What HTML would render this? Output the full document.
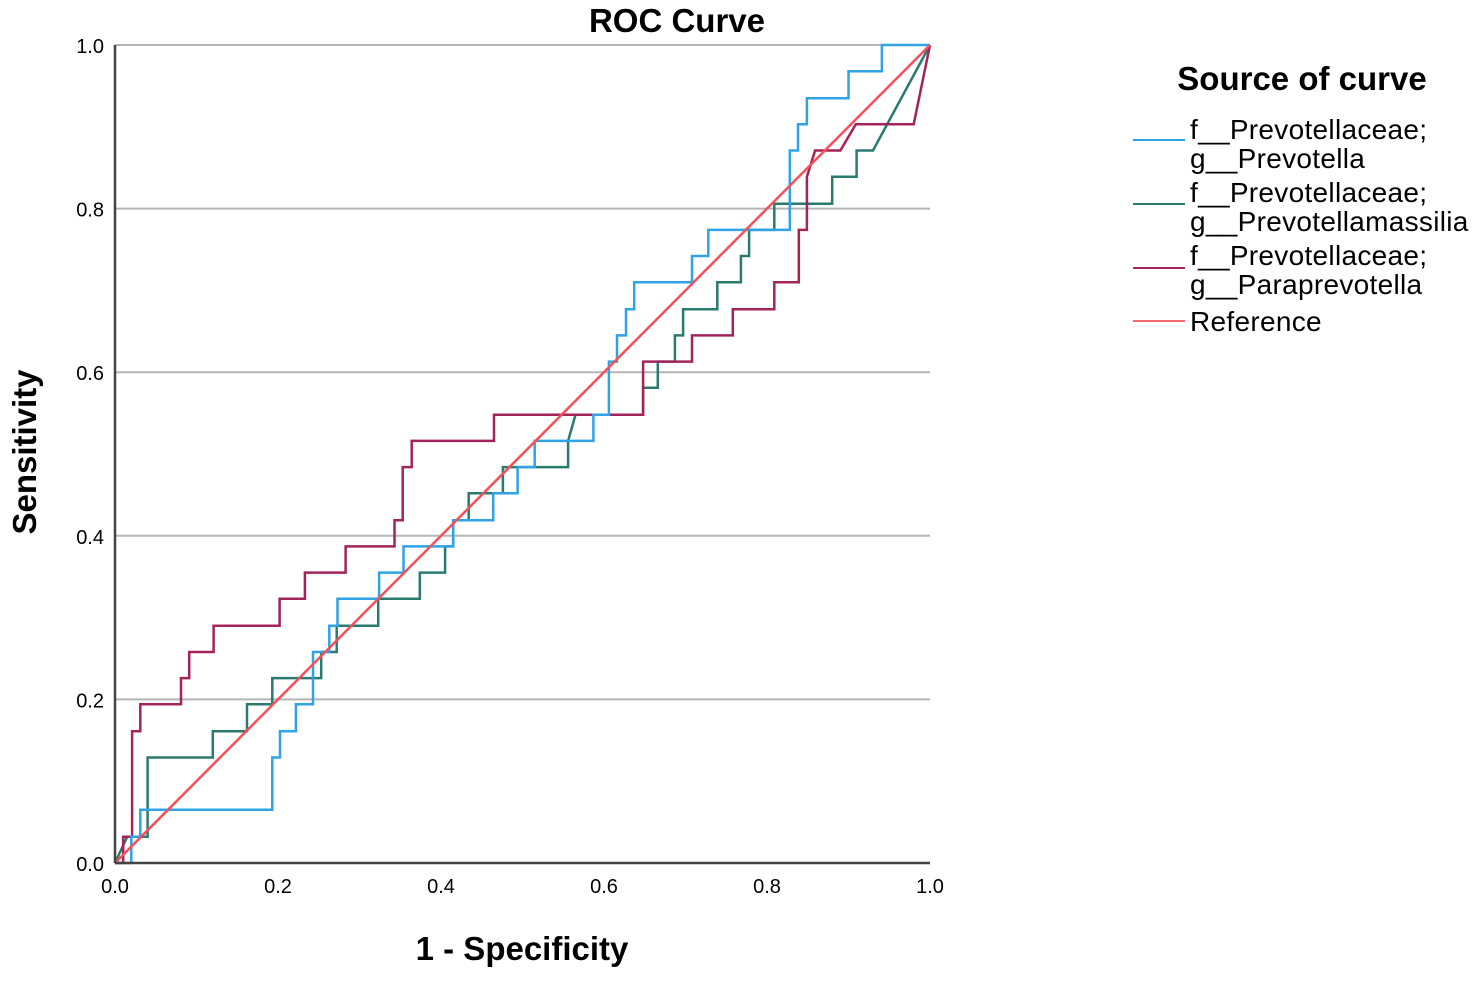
<!DOCTYPE html>
<html><head><meta charset="utf-8"><style>
body{margin:0;background:#fff;width:1477px;height:976px;overflow:hidden;font-family:"Liberation Sans",sans-serif}
</style></head><body>
<svg id="chart" width="1477" height="976" xmlns="http://www.w3.org/2000/svg" font-family="Liberation Sans, sans-serif">
<text x="677" y="32" font-size="33" font-weight="bold" text-anchor="middle">ROC Curve</text>
<text x="522" y="960" font-size="33" font-weight="bold" text-anchor="middle">1 - Specificity</text>
<text transform="translate(36,452) rotate(-90)" font-size="33" font-weight="bold" text-anchor="middle">Sensitivity</text>
<g id="grid"></g>
<g id="series"></g>
<g id="axes"></g>
<g font-size="28" letter-spacing="0.3">
<text x="1302" y="90" font-size="33" font-weight="bold" text-anchor="middle" letter-spacing="0">Source of curve</text>
<line x1="1133" y1="140" x2="1185" y2="140" stroke="#2fa3e6" stroke-width="2"/>
<text x="1190" y="139">f__Prevotellaceae;</text>
<text x="1190" y="168">g__Prevotella</text>
<line x1="1133" y1="204" x2="1185" y2="204" stroke="#2a7a70" stroke-width="2"/>
<text x="1190" y="202">f__Prevotellaceae;</text>
<text x="1190" y="231">g__Prevotellamassilia</text>
<line x1="1133" y1="268" x2="1185" y2="268" stroke="#a3245c" stroke-width="2"/>
<text x="1190" y="265">f__Prevotellaceae;</text>
<text x="1190" y="294">g__Paraprevotella</text>
<line x1="1133" y1="321" x2="1185" y2="321" stroke="#f56a70" stroke-width="2"/>
<text x="1190" y="331">Reference</text>
</g>
</svg>
<script>
const tickLabels = ["0.0","0.2","0.4","0.6","0.8","1.0"];
const tickValues = [0,0.2,0.4,0.6,0.8,1.0];
const prevotellaX = [0,0.02,0.02,0.031,0.031,0.193,0.193,0.2025,0.2025,0.222,0.222,0.243,0.243,0.263,0.263,0.273,0.273,0.324,0.324,0.354,0.354,0.415,0.415,0.464,0.464,0.494,0.494,0.515,0.515,0.587,0.587,0.606,0.606,0.616,0.616,0.627,0.627,0.637,0.637,0.708,0.708,0.728,0.728,0.828,0.828,0.838,0.838,0.849,0.849,0.9,0.9,0.941,0.941,1];
const prevotellaY = [0,0,0.032,0.032,0.065,0.065,0.129,0.129,0.161,0.161,0.194,0.194,0.258,0.258,0.29,0.29,0.323,0.323,0.355,0.355,0.387,0.387,0.419,0.419,0.452,0.452,0.484,0.484,0.516,0.516,0.548,0.548,0.613,0.613,0.645,0.645,0.677,0.677,0.71,0.71,0.742,0.742,0.774,0.774,0.871,0.871,0.903,0.903,0.935,0.935,0.968,0.968,1,1];
const massiliaX = [0,0.015,0.04,0.04,0.12,0.12,0.162,0.162,0.193,0.193,0.253,0.253,0.272,0.272,0.323,0.323,0.374,0.374,0.405,0.405,0.415,0.415,0.434,0.434,0.476,0.476,0.556,0.556,0.565,0.648,0.648,0.666,0.666,0.687,0.687,0.697,0.697,0.739,0.739,0.768,0.768,0.778,0.778,0.809,0.809,0.88,0.88,0.91,0.91,0.93,1];
const massiliaY = [0,0.032,0.032,0.129,0.129,0.161,0.161,0.194,0.194,0.226,0.226,0.258,0.258,0.29,0.29,0.323,0.323,0.355,0.355,0.387,0.387,0.419,0.419,0.452,0.452,0.484,0.484,0.516,0.548,0.548,0.581,0.581,0.613,0.613,0.645,0.645,0.677,0.677,0.71,0.71,0.742,0.742,0.774,0.774,0.806,0.806,0.839,0.839,0.871,0.871,1];
const paraX = [0,0.01,0.01,0.021,0.021,0.031,0.031,0.081,0.081,0.091,0.091,0.121,0.121,0.202,0.202,0.233,0.233,0.283,0.283,0.343,0.343,0.353,0.353,0.364,0.364,0.465,0.465,0.648,0.648,0.708,0.708,0.758,0.758,0.809,0.809,0.839,0.839,0.849,0.849,0.859,0.89,0.909,0.98,1];
const paraY = [0,0,0.032,0.032,0.161,0.161,0.194,0.194,0.226,0.226,0.258,0.258,0.29,0.29,0.323,0.323,0.355,0.355,0.387,0.387,0.419,0.419,0.484,0.484,0.516,0.516,0.548,0.548,0.613,0.613,0.645,0.645,0.677,0.677,0.71,0.71,0.774,0.774,0.839,0.871,0.871,0.903,0.903,1];
const refX = [0,1];
const refY = [0,1];

const NS="http://www.w3.org/2000/svg";
const X0=115,X1=930,Y0=863,Y1=45;
const sx=v=>X0+v*(X1-X0), sy=v=>Y0-v*(Y0-Y1);
function mk(tag,attrs,parent){const e=document.createElementNS(NS,tag);for(const k in attrs)e.setAttribute(k,attrs[k]);parent.appendChild(e);return e;}
const grid=document.getElementById('grid'),axes=document.getElementById('axes'),series=document.getElementById('series');
tickValues.forEach((v,i)=>{
  if(v>0){const g=mk('line',{x1:X0,x2:X1,y1:sy(v),y2:sy(v),stroke:'#b5b5b5','stroke-width':2},grid);
  
  }
  const ty=mk('text',{x:X0-11,y:sy(v)+8,'font-size':20,'text-anchor':'end'},axes);ty.textContent=tickLabels[i];
  
  
  const tx=mk('text',{x:sx(v),y:Y0+30,'font-size':20,'text-anchor':'middle'},axes);tx.textContent=tickLabels[i];
  
  
});
const ya=mk('line',{x1:X0,x2:X0,y1:Y1,y2:Y0,stroke:'#444','stroke-width':2.5},axes);


const xa=mk('line',{x1:X0,x2:X1,y1:Y0,y2:Y0,stroke:'#444','stroke-width':2.5},axes);


function line(xs,ys,color,name){
  const d=xs.map((x,i)=>(i?'L':'M')+sx(x).toFixed(1)+','+sy(ys[i]).toFixed(1)).join('');
  const p=mk('path',{d:d,fill:'none',stroke:color,'stroke-width':2.5},series);
  
  
}
line(massiliaX,massiliaY,'#2a7a70','curve-prevotellamassilia');
line(paraX,paraY,'#a3245c','curve-paraprevotella');
line(prevotellaX,prevotellaY,'#2fa3e6','curve-prevotella');
line(refX,refY,'#f55058','curve-reference');
</script>
</body></html>
